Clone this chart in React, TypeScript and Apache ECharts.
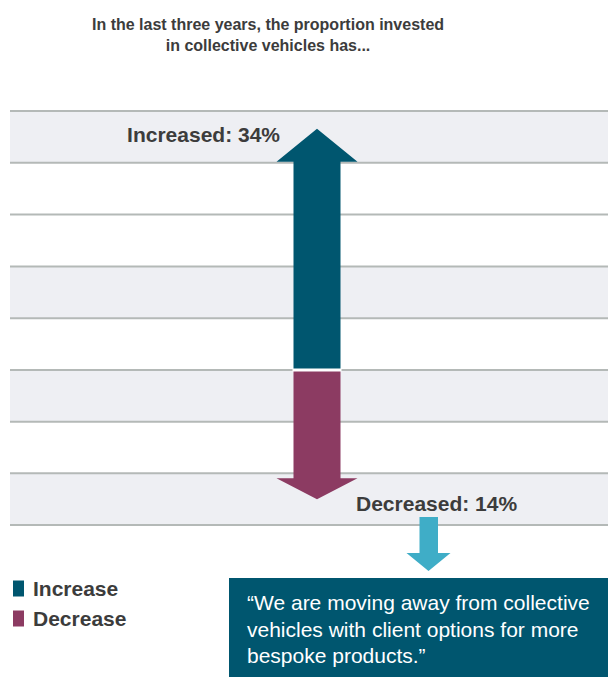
import React, { useEffect, useRef } from "react";
import * as echarts from "echarts";

const titleLines = [
  "In the last three years, the proportion invested",
  "in collective vehicles has...",
];
const seriesNames = ["Increase", "Decrease"];
const labelPrefixes = ["Increased", "Decreased"];
const increaseValues = [34];
const decreaseValues = [14];
const quoteLines = [
  "\u201cWe are moving away from collective",
  "vehicles with client options for more",
  "bespoke products.\u201d",
];
// axis extents (percentage points) and tick spacing for the background bands
const upperAxisMax = 36.5;
const upperTickCount = 5;
const lowerAxisMax = 16.8;
const lowerTickCount = 3;
const upperShadedBands = [1, 4];
const lowerShadedBands = [0, 2];

const TEAL = "#00566f";
const PURPLE = "#8c3b62";
const LIGHT_BLUE = "#3fadc7";
const TEXT = "#3c3c3c";
const FONT = "'Liberation Sans', Arial, Helvetica, sans-serif";

function makeArrowRenderer(headLen: number, labelPrefix: string, up: boolean) {
  return (params: any, api: any) => {
    const cat = api.value(0);
    const val = api.value(1);
    const base = api.coord([cat, 0]);
    const tip = api.coord([cat, val]);
    const x = tip[0];
    const dir = up ? -1 : 1;
    const shaftHalf = 23.5;
    const headHalf = 40.5;
    const headBase = tip[1] - dir * headLen;
    const points = [
      [x - shaftHalf, base[1]],
      [x - shaftHalf, headBase],
      [x - headHalf, headBase],
      [x, tip[1]],
      [x + headHalf, headBase],
      [x + shaftHalf, headBase],
      [x + shaftHalf, base[1]],
    ];
    const color = api.visual("color");
    return {
      type: "group",
      children: [
        {
          type: "polygon",
          shape: { points },
          style: { fill: color },
        },
        {
          type: "rect",
          shape: {
            x: x - shaftHalf - 1,
            y: up ? base[1] - 1.6 : base[1],
            width: shaftHalf * 2 + 2,
            height: 1.6,
          },
          style: { fill: "#ffffff" },
          z2: 10,
        },
        {
          type: "text",
          x: up ? x - 37 : x + 39,
          y: up ? tip[1] + 6 : tip[1] + 4,
          style: {
            text: `${labelPrefix}: ${val}%`,
            fill: TEXT,
            font: `bold 21px ${FONT}`,
            align: up ? "right" : "left",
            verticalAlign: "middle",
          },
        },
      ],
    };
  };
}

export default function App() {
  const ref = useRef<HTMLDivElement>(null);

  useEffect(() => {
    if (!ref.current) return;
    const chart = echarts.init(ref.current, undefined, { renderer: "svg" });

    const option: any = {
      animation: false,
      backgroundColor: "#ffffff",
      textStyle: { fontFamily: FONT },
      title: {
        text: titleLines.join("\n"),
        left: 263,
        top: 9,
        textAlign: "center",
        textStyle: {
          fontFamily: FONT,
          fontSize: 16,
          fontWeight: "bold",
          lineHeight: 21,
          color: TEXT,
        },
      },
      legend: {
        orient: "vertical",
        left: 8,
        top: 573,
        icon: "rect",
        itemWidth: 11,
        itemHeight: 16,
        itemGap: 9,
        data: seriesNames,
        textStyle: {
          fontFamily: FONT,
          fontSize: 21,
          fontWeight: "bold",
          color: TEXT,
          padding: [0, 0, 0, 4],
        },
      },
      grid: [
        { left: 276, width: 82, top: 111, height: 259 },
        { left: 276, width: 82, top: 370, height: 155 },
      ],
      xAxis: [
        { type: "category", gridIndex: 0, data: [seriesNames[0]], show: false },
        { type: "category", gridIndex: 1, data: [seriesNames[1]], show: false },
      ],
      yAxis: [
        {
          type: "value",
          gridIndex: 0,
          min: 0,
          max: upperAxisMax,
          interval: upperAxisMax / upperTickCount,
          show: false,
        },
        {
          type: "value",
          gridIndex: 1,
          min: 0,
          max: lowerAxisMax,
          interval: lowerAxisMax / lowerTickCount,
          inverse: true,
          show: false,
        },
      ],
      series: [
        {
          type: "custom",
          name: seriesNames[0],
          xAxisIndex: 0,
          yAxisIndex: 0,
          itemStyle: { color: TEAL },
          data: increaseValues.map((v) => [seriesNames[0], v]),
          renderItem: makeArrowRenderer(33, labelPrefixes[0], true),
          z: 5,
        },
        {
          type: "custom",
          name: seriesNames[1],
          xAxisIndex: 1,
          yAxisIndex: 1,
          itemStyle: { color: PURPLE },
          data: decreaseValues.map((v) => [seriesNames[1], v]),
          renderItem: makeArrowRenderer(21, labelPrefixes[1], false),
          z: 5,
        },
      ],
    };
    chart.setOption(option);

    // background bands & rule lines derived from the axes' tick values
    const elements: any[] = [];
    const addAxis = (axisIndex: number, max: number, count: number, shaded: number[]) => {
      const step = max / count;
      const ys: number[] = [];
      for (let i = 0; i <= count; i++) {
        ys.push(chart.convertToPixel({ yAxisIndex: axisIndex } as any, step * i) as any);
      }
      shaded.forEach((b) => {
        const y1 = Math.min(ys[b], ys[b + 1]);
        const y2 = Math.max(ys[b], ys[b + 1]);
        elements.push({
          type: "rect",
          z: -20,
          silent: true,
          shape: { x: 10, y: y1, width: 598, height: y2 - y1 },
          style: { fill: "#eeeff3" },
        });
      });
      ys.forEach((y) => {
        elements.push({
          type: "line",
          z: -10,
          silent: true,
          shape: { x1: 10, y1: y, x2: 608, y2: y },
          style: { stroke: "#b4b9b7", lineWidth: 2 },
        });
      });
    };
    addAxis(0, upperAxisMax, upperTickCount, upperShadedBands);
    addAxis(1, lowerAxisMax, lowerTickCount, lowerShadedBands);

    // annotation: small arrow + quote box
    elements.push({
      type: "polygon",
      z: 1,
      silent: true,
      shape: {
        points: [
          [419.5, 517],
          [419.5, 553],
          [406.5, 553],
          [428.5, 571],
          [450.5, 553],
          [438, 553],
          [438, 517],
        ],
      },
      style: { fill: LIGHT_BLUE },
    });
    elements.push({
      type: "rect",
      z: 1,
      silent: true,
      shape: { x: 229, y: 578, width: 379, height: 99 },
      style: { fill: TEAL },
    });
    elements.push({
      type: "text",
      z: 2,
      silent: true,
      x: 247,
      y: 589.5,
      style: {
        text: quoteLines.join("\n"),
        fill: "#ffffff",
        font: `21px ${FONT}`,
        lineHeight: 26.5,
        align: "left",
        verticalAlign: "top",
      },
    });

    chart.setOption({ graphic: { elements } });

    return () => {
      chart.dispose();
    };
  }, []);

  return (
    <div
      ref={ref}
      style={{ position: "fixed", left: 0, top: 0, width: 608, height: 677 }}
    />
  );
}
